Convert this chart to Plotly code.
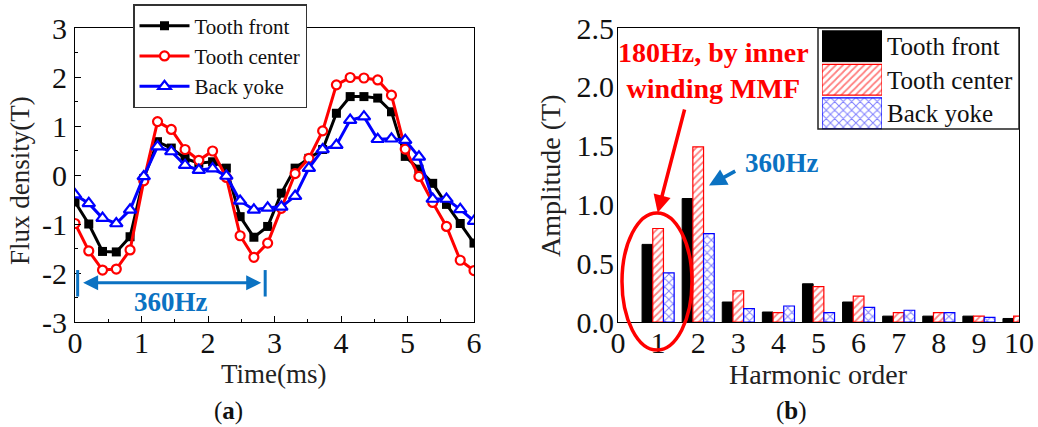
import plotly.graph_objects as go

# ---------------- data ----------------
time_ms = [0.0, 0.207, 0.414, 0.621, 0.828, 1.034, 1.241, 1.448, 1.655, 1.862,
           2.069, 2.276, 2.483, 2.690, 2.897, 3.103, 3.310, 3.517, 3.724, 3.931,
           4.138, 4.345, 4.552, 4.759, 4.966, 5.172, 5.379, 5.586, 5.793, 6.0]
tooth_front = [-0.55, -1.0, -1.56, -1.57, -1.26, -0.07, 0.68, 0.55, 0.34, 0.24,
               0.27, 0.14, -0.85, -1.27, -1.05, -0.37, 0.14, 0.34, 0.52, 1.26,
               1.60, 1.60, 1.57, 1.29, 0.38, 0.12, -0.17, -0.60, -0.99, -1.39]
tooth_center = [-0.99, -1.55, -1.94, -1.92, -1.53, -0.12, 1.09, 0.93, 0.52, 0.30,
                0.49, -0.05, -1.24, -1.68, -1.39, -0.68, 0.03, 0.34, 0.90, 1.84,
                1.99, 1.98, 1.94, 1.63, 0.53, -0.03, -0.56, -1.05, -1.74, -1.95]
back_yoke = [-0.40, -0.58, -0.88, -0.99, -0.71, -0.03, 0.58, 0.48, 0.20, 0.10,
             0.13, -0.02, -0.53, -0.71, -0.67, -0.65, -0.43, 0.14, 0.52, 0.61,
             1.12, 1.19, 0.73, 0.74, 0.71, 0.37, -0.49, -0.49, -0.70, -0.94]

harmonic_order = [1, 2, 3, 4, 5, 6, 7, 8, 9, 10]
amp_front = [0.66, 1.05, 0.17, 0.085, 0.325, 0.17, 0.05, 0.05, 0.05, 0.03]
amp_center = [0.795, 1.49, 0.265, 0.08, 0.30, 0.22, 0.08, 0.08, 0.05, 0.05]
amp_yoke = [0.417, 0.752, 0.114, 0.136, 0.08, 0.125, 0.10, 0.08, 0.04, 0.03]

series_names = ["Tooth front", "Tooth center", "Back yoke"]
left_yticks = [-3, -2, -1, 0, 1, 2, 3]
left_yticktext = ["-3", "-2", "-1", "0", "1", "2", "3"]
left_xticks = [0, 1, 2, 3, 4, 5, 6]
right_yticks = [0.0, 0.5, 1.0, 1.5, 2.0, 2.5]
right_xticks = [0, 1, 2, 3, 4, 5, 6, 7, 8, 9, 10]

FONT = "Liberation Serif"
W, H = 1038, 427
BLUE_TXT = "#0B72C2"
RED = "#FF0000"
BLUE = "#0000FF"


def px(x):
    return x / W


def py(y):
    return 1 - y / H


fig = go.Figure()

# ---------------- (a) line chart ----------------
fig.add_trace(go.Scatter(
    x=time_ms, y=tooth_front, name=series_names[0], mode="lines+markers",
    line=dict(color="black", width=3),
    marker=dict(symbol="square", size=9, color="black"),
    xaxis="x", yaxis="y", legend="legend"))
fig.add_trace(go.Scatter(
    x=time_ms, y=tooth_center, name=series_names[1], mode="lines+markers",
    line=dict(color=RED, width=3),
    marker=dict(symbol="circle", size=9, color="white",
                line=dict(color=RED, width=2.2)),
    xaxis="x", yaxis="y", legend="legend"))
fig.add_trace(go.Scatter(
    x=time_ms, y=back_yoke, name=series_names[2], mode="lines+markers",
    line=dict(color=BLUE, width=3),
    marker=dict(symbol="triangle-up", size=11, color="white",
                line=dict(color=BLUE, width=2.2)),
    xaxis="x", yaxis="y", legend="legend"))

# ---------------- (b) bar chart ----------------
bar_styles = [
    dict(color="black", line=dict(color="black", width=1)),
    dict(color="white", line=dict(color=RED, width=1.2),
         pattern=dict(shape="/", fgcolor=RED, bgcolor="white", size=5, solidity=0.35)),
    dict(color="white", line=dict(color=BLUE, width=1.2),
         pattern=dict(shape="x", fgcolor=BLUE, bgcolor="white", size=6, solidity=0.3)),
]
for name, vals, style in zip(series_names, [amp_front, amp_center, amp_yoke], bar_styles):
    fig.add_trace(go.Bar(x=harmonic_order, y=vals, name=name, marker=style,
                         xaxis="x2", yaxis="y2", showlegend=False))

# legend swatches for (b), drawn as a tiny horizontal bar chart
for name, style in zip(series_names, bar_styles):
    fig.add_trace(go.Bar(y=[name], x=[1], orientation="h", width=0.92,
                         offsetgroup="swatch", marker=style,
                         xaxis="x3", yaxis="y3", showlegend=False, hoverinfo="skip"))

axis_common = dict(showline=True, linecolor="black", linewidth=1.2, mirror=True,
                   showgrid=False, zeroline=False,
                   tickfont=dict(family=FONT, size=30, color="#111"))

fig.update_layout(
    width=W, height=H,
    margin=dict(l=0, r=0, t=0, b=0, autoexpand=False),
    paper_bgcolor="white", plot_bgcolor="white",
    font=dict(family=FONT, color="#111"),
    barmode="group", bargap=0.2, bargroupgap=0,
    xaxis=dict(domain=[px(75), px(474)], range=[0, 6], anchor="y",
               tickvals=left_xticks, ticks="inside", ticklen=6, tickcolor="black",
               minor=dict(dtick=0.5, ticks="inside", ticklen=3, tickcolor="black"),
               ticklabelstandoff=-6, automargin=False, **axis_common),
    yaxis=dict(domain=[py(322), py(28)], range=[-3, 3], anchor="x",
               tickvals=left_yticks, ticktext=left_yticktext,
               ticks="inside", ticklen=6, tickcolor="black",
               minor=dict(dtick=0.5, ticks="inside", ticklen=3, tickcolor="black"),
               ticklabelstandoff=1, automargin=False, **axis_common),
    xaxis2=dict(domain=[px(618), px(1019)], range=[0, 10], anchor="y2",
                tickvals=right_xticks, ticks="", ticklabelstandoff=-6,
                automargin=False, **axis_common),
    yaxis2=dict(domain=[py(322), py(28)], range=[0, 2.5], anchor="x2",
                tickvals=right_yticks, tickformat=".1f", ticks="",
                ticklabelstandoff=-3, automargin=False, **axis_common),
    xaxis3=dict(domain=[px(822), px(882)], range=[0, 1], anchor="y3",
                visible=False, fixedrange=True),
    yaxis3=dict(domain=[py(130), py(29.5)], anchor="x3", side="right",
                categoryorder="array", categoryarray=series_names,
                autorange="reversed", showline=False, showgrid=False,
                zeroline=False, ticks="", ticklabelstandoff=4, automargin=False,
                tickfont=dict(family=FONT, size=25, color="#111")),
    legend=dict(x=px(133), y=py(4), xanchor="left", yanchor="top",
                bgcolor="white", bordercolor="#333", borderwidth=1.5,
                font=dict(family=FONT, size=21, color="#111"),
                itemwidth=50, tracegroupgap=0),
)

# frame for the (b) legend
fig.add_shape(type="rect", xref="paper", yref="paper",
              x0=px(818), x1=px(1019), y0=py(129), y1=py(28),
              line=dict(color="#222", width=1.5), fillcolor="rgba(0,0,0,0)")

# 360 Hz period marker in (a)
fig.add_shape(type="line", xref="x", yref="y", x0=0.04, x1=0.04, y0=-1.94, y1=-2.48,
              line=dict(color=BLUE_TXT, width=3))
fig.add_shape(type="line", xref="x", yref="y", x0=2.86, x1=2.86, y0=-1.94, y1=-2.48,
              line=dict(color=BLUE_TXT, width=3))
fig.add_annotation(x=2.8, y=-2.2, ax=0.1, ay=-2.2, xref="x", yref="y",
                   axref="x", ayref="y", text="", showarrow=True,
                   arrowhead=2, startarrowhead=2, arrowside="end+start",
                   arrowsize=1, startarrowsize=1, arrowwidth=3, arrowcolor=BLUE_TXT)
fig.add_annotation(x=1.44, y=-2.6, xref="x", yref="y", text="<b>360Hz</b>",
                   xanchor="center", yanchor="middle",
                   showarrow=False, font=dict(family=FONT, size=27, color=BLUE_TXT))

# annotations in (b)
fig.add_annotation(x=2.37, y=2.14, xref="x2", yref="y2",
                   text="<b>180Hz, by inner<br>winding MMF</b>", showarrow=False,
                   font=dict(family=FONT, size=28, color=RED),
                   xanchor="center", yanchor="middle", align="center")
fig.add_annotation(x=0.99, y=0.93, ax=1.67, ay=1.82, xref="x2", yref="y2",
                   axref="x2", ayref="y2", text="", showarrow=True,
                   arrowhead=2, arrowsize=1, arrowwidth=3.5, arrowcolor=RED)
fig.add_annotation(x=4.1, y=1.35, xref="x2", yref="y2", text="<b>360Hz</b>",
                   xanchor="center", yanchor="middle",
                   showarrow=False, font=dict(family=FONT, size=27, color=BLUE_TXT))
fig.add_annotation(x=2.27, y=1.16, ax=2.96, ay=1.29, xref="x2", yref="y2",
                   axref="x2", ayref="y2", text="", showarrow=True,
                   arrowhead=2, arrowsize=1, arrowwidth=3.5, arrowcolor=BLUE_TXT)
fig.add_shape(type="circle", xref="paper", yref="paper",
              x0=px(622), x1=px(692), y0=py(350), y1=py(213),
              line=dict(color=RED, width=3.5))

# axis titles and captions
title_font = dict(family=FONT, size=27, color="#222")
centered = dict(xref="paper", yref="paper", showarrow=False,
                xanchor="center", yanchor="middle")
fig.add_annotation(x=px(20), y=py(181), text="Flux density(T)", textangle=-90,
                   font=title_font, **centered)
fig.add_annotation(x=px(274), y=py(374), text="Time(ms)", font=title_font, **centered)
fig.add_annotation(x=px(550), y=py(176), text="Amplitude (T)", textangle=-90,
                   font=dict(family=FONT, size=28, color="#222"), **centered)
fig.add_annotation(x=px(818), y=py(374), text="Harmonic order",
                   font=dict(family=FONT, size=28, color="#222"), **centered)
fig.add_annotation(x=px(228), y=py(411), text="(<b>a</b>)",
                   font=dict(family=FONT, size=25, color="#111"), **centered)
fig.add_annotation(x=px(791), y=py(411), text="(<b>b</b>)",
                   font=dict(family=FONT, size=25, color="#111"), **centered)

fig.write_html("out.html")
